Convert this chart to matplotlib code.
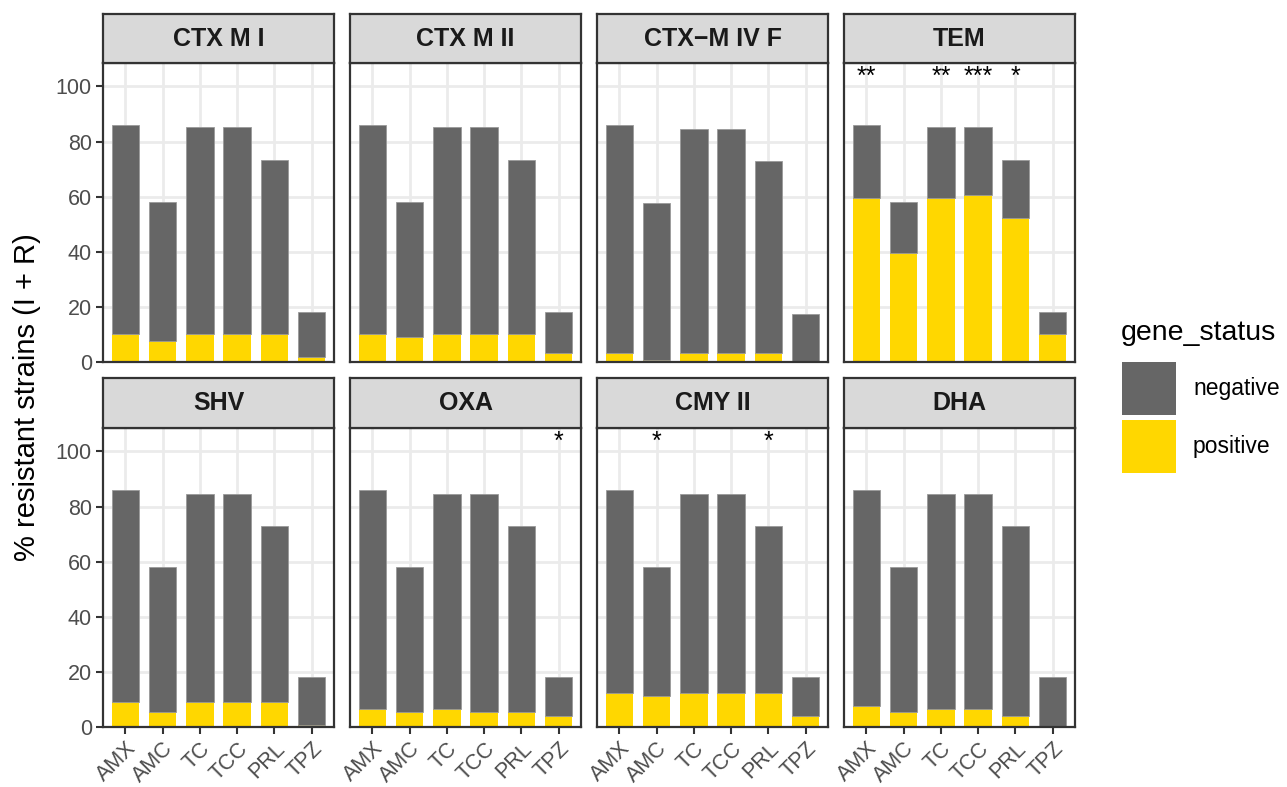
import numpy as np
import matplotlib
matplotlib.use("Agg")
import matplotlib.pyplot as plt
from matplotlib.patches import Rectangle

plt.rcParams['font.family'] = ['Liberation Sans', 'DejaVu Sans']

drugs = ["AMX", "AMC", "TC", "TCC", "PRL", "TPZ"]
genes = ["CTX M I", "CTX M II", "CTX\u2212M IV F", "TEM", "SHV", "OXA", "CMY II", "DHA"]

total_ctx_m_i = [86.0, 58.0, 85.1, 85.1, 73.3, 18.1]
total_ctx_m_ii = [86.0, 58.0, 85.1, 85.1, 73.3, 18.1]
total_ctx_m_iv_f = [86.0, 57.7, 84.7, 84.7, 73.0, 17.4]
total_tem = [86.0, 58.0, 85.1, 85.1, 73.3, 18.1]
total_shv = [86.1, 58.1, 84.7, 84.7, 73.0, 18.3]
total_oxa = [86.1, 58.1, 84.7, 84.7, 73.0, 18.3]
total_cmy_ii = [86.1, 58.1, 84.7, 84.7, 73.0, 18.3]
total_dha = [86.1, 58.1, 84.7, 84.7, 73.0, 18.3]

pos_ctx_m_i = [10.1, 7.8, 10.1, 10.1, 10.1, 1.9]
pos_ctx_m_ii = [10.1, 8.9, 10.1, 10.1, 10.1, 3.3]
pos_ctx_m_iv_f = [3.3, 0.7, 3.3, 3.3, 3.3, 0.0]
pos_tem = [59.5, 39.4, 59.5, 60.5, 52.3, 10.1]
pos_shv = [9.0, 5.6, 9.0, 9.0, 9.0, 0.6]
pos_oxa = [6.7, 5.6, 6.7, 5.6, 5.6, 4.1]
pos_cmy_ii = [12.5, 11.1, 12.5, 12.5, 12.5, 4.1]
pos_dha = [7.6, 5.6, 6.7, 6.7, 4.1, 0.0]

sig_ctx_m_i = ["", "", "", "", "", ""]
sig_ctx_m_ii = ["", "", "", "", "", ""]
sig_ctx_m_iv_f = ["", "", "", "", "", ""]
sig_tem = ["**", "", "**", "***", "*", ""]
sig_shv = ["", "", "", "", "", ""]
sig_oxa = ["", "", "", "", "", "*"]
sig_cmy_ii = ["", "*", "", "", "*", ""]
sig_dha = ["", "", "", "", "", ""]

totals = [total_ctx_m_i, total_ctx_m_ii, total_ctx_m_iv_f, total_tem,
          total_shv, total_oxa, total_cmy_ii, total_dha]
positives = [pos_ctx_m_i, pos_ctx_m_ii, pos_ctx_m_iv_f, pos_tem,
             pos_shv, pos_oxa, pos_cmy_ii, pos_dha]
sigs = [sig_ctx_m_i, sig_ctx_m_ii, sig_ctx_m_iv_f, sig_tem,
        sig_shv, sig_oxa, sig_cmy_ii, sig_dha]

legend_labels = ["negative", "positive"]
NEG = "#666666"
POS = "#FFD700"

W, H = 1287, 787
fig = plt.figure(figsize=(W / 100, H / 100), dpi=100)

def fx(p):
    return p / W

def fy(p):
    return 1 - p / H

lefts = [103, 350, 597, 844]
pw = 231
rows = [(14, 63, 362), (378, 428, 727)]  # strip top, panel top, panel bottom
border = "#333333"
tick_col = "#4D4D4D"

x = np.arange(len(drugs))
for i, g in enumerate(genes):
    r, c = divmod(i, 4)
    st, pt, pb = rows[r]
    ax = fig.add_axes([fx(lefts[c]), fy(pb), pw / W, (pb - pt) / H])
    tot = np.array(totals[i])
    pos = np.array(positives[i])
    neg = tot - pos
    ax.bar(x, pos, width=0.74, color=POS, zorder=2, linewidth=0)
    ax.bar(x, neg, bottom=pos, width=0.74, color=NEG, edgecolor="#9a9a9a",
           linewidth=0.6, zorder=2)
    for xi, s in zip(x, sigs[i]):
        if s:
            ax.text(xi, 103.6, s, ha="center", va="center", fontsize=18,
                    color="black", zorder=3)
    ax.set_xlim(-0.6, len(drugs) - 0.4)
    ax.set_ylim(0, 108.5)
    ax.set_yticks([0, 20, 40, 60, 80, 100])
    ax.set_xticks(x)
    ax.grid(True, color="#EBEBEB", linewidth=2.0, zorder=0)
    ax.set_axisbelow(True)
    for sp in ax.spines.values():
        sp.set_color(border)
        sp.set_linewidth(1.6)
        sp.set_zorder(4)
    ax.tick_params(axis="both", color=border, width=1.5, length=5,
                   labelcolor=tick_col, labelsize=15.5)
    if c == 0:
        ax.tick_params(axis="y", left=True, labelleft=True, pad=3)
    else:
        ax.tick_params(axis="y", left=False, labelleft=False)
    if r == 1:
        ax.set_xticklabels(drugs, rotation=45, ha="right", va="top",
                           rotation_mode="anchor")
        ax.tick_params(axis="x", bottom=True, labelbottom=True, pad=3)
    else:
        ax.tick_params(axis="x", bottom=False, labelbottom=False)

    sax = fig.add_axes([fx(lefts[c]), fy(pt), pw / W, (pt - st) / H])
    sax.set_facecolor("#D9D9D9")
    sax.set_xticks([])
    sax.set_yticks([])
    for sp in sax.spines.values():
        sp.set_color(border)
        sp.set_linewidth(1.6)
    sax.text(0.5, 0.5, g, ha="center", va="center", fontsize=18,
             fontweight="bold", color="#1A1A1A", transform=sax.transAxes)

fig.text(fx(27), fy(397), "% resistant strains (I + R)", rotation=90,
         ha="center", va="center", fontsize=21, color="black")

# legend
fig.text(fx(1121), fy(333), "gene_status", ha="left", va="center",
         fontsize=20.5, color="black")
key_tops = [362, 420]
key_cols = [NEG, POS]
for kt, kc, lab in zip(key_tops, key_cols, legend_labels):
    fig.patches.append(Rectangle((fx(1122), fy(kt + 53)), 54 / W, 53 / H,
                                 transform=fig.transFigure, facecolor=kc,
                                 edgecolor="none"))
    fig.text(fx(1193), fy(kt + 27), lab, ha="left", va="center",
             fontsize=16.5, color="black")

fig.savefig("out.png", dpi=100)
